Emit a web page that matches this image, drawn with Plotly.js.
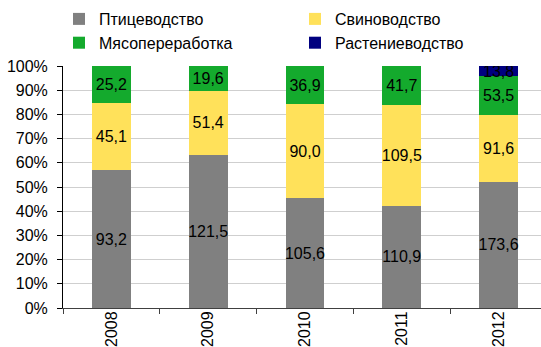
<!DOCTYPE html>
<html>
<head>
<meta charset="utf-8">
<script src="https://cdn.plot.ly/plotly-3.0.1.min.js"></script>
<style>
  html, body { margin: 0; padding: 0; overflow: hidden; background: #fff; }
  #chart { width: 548px; height: 347px; }
</style>
</head>
<body>
<div id="chart"></div>
<script>
// Structure of output by segment, 2008–2012 (shares of yearly total, labels show values)
const years = ['2008', '2009', '2010', '2011', '2012'];
const poultry = [93.2, 121.5, 105.6, 110.9, 173.6];   // Птицеводство
const pigs = [45.1, 51.4, 90.0, 109.5, 91.6];          // Свиноводство
const meatProc = [25.2, 19.6, 36.9, 41.7, 53.5];       // Мясопереработка
const crops = [0, 0, 0, 0, 13.8];                      // Растениеводство

const seriesNames = ['Птицеводство', 'Свиноводство', 'Мясопереработка', 'Растениеводство'];
const seriesColors = ['#808080', '#ffe15a', '#14aa2d', '#000080'];
const seriesValues = [poultry, pigs, meatProc, crops];

const FONT = '"Liberation Sans", Arial, sans-serif';
const FS = 16;

const fmt = v => v > 0 ? v.toFixed(1).replace('.', ',') : '';

const traces = seriesValues.map((vals, i) => ({
  type: 'bar',
  name: seriesNames[i],
  x: years,
  y: vals,
  marker: { color: seriesColors[i], line: { width: 0 } },
  text: vals.map(fmt),
  textposition: 'inside',
  insidetextanchor: 'middle',
  textangle: 0,
  constraintext: 'none',
  textfont: { family: FONT, size: FS, color: '#000' },
  hoverinfo: 'skip'
}));

const layout = {
  width: 548,
  height: 347,
  margin: { l: 63, r: 1, t: 66, b: 39 },
  barmode: 'stack',
  barnorm: 'percent',
  bargap: 0.6,
  paper_bgcolor: '#fff',
  plot_bgcolor: '#fff',
  font: { family: FONT, size: FS, color: '#000' },
  showlegend: true,
  legend: {
    orientation: 'h',
    traceorder: 'normal',
    xref: 'container',
    yref: 'container',
    x: 59 / 548,
    xanchor: 'left',
    y: 1 - 2 / 347,
    yanchor: 'top',
    entrywidthmode: 'pixels',
    entrywidth: 191,
    itemwidth: 30,
    font: { family: FONT, size: FS, color: '#000' },
    bgcolor: 'rgba(0,0,0,0)',
    tracegroupgap: 0
  },
  xaxis: {
    type: 'category',
    tickangle: -90,
    showline: true,
    linecolor: '#404040',
    linewidth: 1,
    ticks: 'outside',
    tickson: 'boundaries',
    ticklen: 5,
    tickcolor: '#404040',
    ticklabelstandoff: -4,
    showgrid: false,
    tickfont: { family: FONT, size: FS, color: '#000' },
    fixedrange: true
  },
  yaxis: {
    range: [0, 100],
    dtick: 10,
    ticksuffix: '%',
    showline: true,
    linecolor: '#000',
    linewidth: 1,
    ticks: 'outside',
    ticklen: 5,
    tickcolor: '#000',
    ticklabelstandoff: 6,
    showgrid: true,
    gridcolor: '#cfcfcf',
    gridwidth: 1,
    zeroline: false,
    tickfont: { family: FONT, size: FS, color: '#000' },
    fixedrange: true
  }
};

Plotly.newPlot('chart', traces, layout, { displayModeBar: false, staticPlot: true });
</script>
</body>
</html>
